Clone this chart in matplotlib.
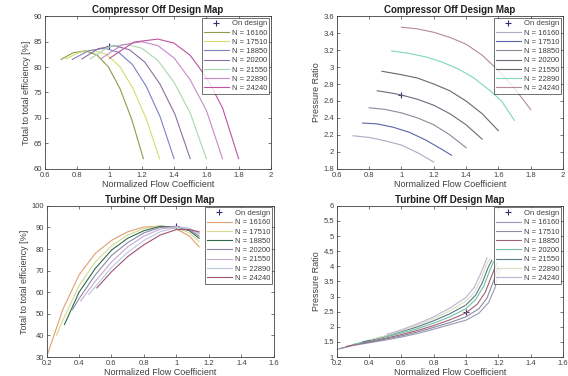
import matplotlib
matplotlib.use("Agg")
import matplotlib.pyplot as plt
from matplotlib.ticker import FuncFormatter, MultipleLocator

plt.rcParams['font.family'] = ['Liberation Sans', 'DejaVu Sans']

speeds = [16160, 17510, 18850, 20200, 21550, 22890, 24240]

# compressor efficiency
comp_eta_x = [
    [0.70, 0.775, 0.85, 0.922, 0.994, 1.066, 1.138, 1.21],
    [0.73, 0.815, 0.90, 0.982, 1.064, 1.146, 1.228, 1.31],
    [0.77, 0.87, 0.97, 1.056, 1.142, 1.228, 1.314, 1.40],
    [0.83, 0.93, 1.03, 1.124, 1.218, 1.312, 1.406, 1.50],
    [0.88, 0.99, 1.10, 1.20, 1.30, 1.40, 1.50, 1.60],
    [0.95, 1.075, 1.20, 1.30, 1.40, 1.50, 1.60, 1.70],
    [1.00, 1.15, 1.30, 1.40, 1.50, 1.60, 1.70, 1.80],
]
comp_eta_y = [
    [81.5, 82.8, 83.2, 82.4, 80.0, 75.7, 69.7, 62.0],
    [81.6, 82.9, 83.3, 82.5, 80.1, 75.8, 69.8, 62.0],
    [81.5, 83.2, 83.7, 82.9, 80.5, 76.2, 70.2, 62.0],
    [81.6, 83.6, 84.2, 83.4, 81.0, 76.7, 70.7, 62.0],
    [81.6, 83.9, 84.5, 83.7, 81.3, 77.0, 71.0, 62.0],
    [81.7, 84.3, 85.0, 84.2, 81.8, 77.5, 71.5, 62.0],
    [81.7, 84.9, 85.5, 84.7, 82.3, 78.0, 72.0, 62.0],
]
comp_eta_design = (1.0, 84.1)

# compressor pressure ratio
comp_pr_x = [
    [0.70, 0.80, 0.90, 1.00, 1.10, 1.20],
    [0.76, 0.85, 0.95, 1.05, 1.15, 1.25, 1.31],
    [0.80, 0.90, 1.00, 1.10, 1.20, 1.30, 1.40],
    [0.85, 0.95, 1.00, 1.10, 1.20, 1.30, 1.40, 1.50],
    [0.88, 1.00, 1.10, 1.20, 1.30, 1.40, 1.50, 1.60],
    [0.94, 1.05, 1.15, 1.25, 1.35, 1.45, 1.55, 1.62, 1.70],
    [1.00, 1.10, 1.20, 1.30, 1.40, 1.50, 1.60, 1.70, 1.80],
]
comp_pr_y = [
    [2.19, 2.17, 2.13, 2.08, 1.99, 1.88],
    [2.34, 2.33, 2.29, 2.23, 2.14, 2.03, 1.96],
    [2.52, 2.50, 2.46, 2.40, 2.32, 2.20, 2.05],
    [2.72, 2.69, 2.67, 2.62, 2.55, 2.45, 2.32, 2.15],
    [2.95, 2.91, 2.87, 2.80, 2.72, 2.60, 2.45, 2.25],
    [3.19, 3.16, 3.12, 3.06, 2.98, 2.87, 2.72, 2.60, 2.37],
    [3.47, 3.45, 3.41, 3.35, 3.27, 3.14, 2.96, 2.75, 2.50],
]
comp_pr_design = (1.0, 2.67)

# turbine efficiency
turb_eta_x = [
    [0.20, 0.30, 0.40, 0.50, 0.60, 0.70, 0.80, 0.90, 1.00, 1.08, 1.14],
    [0.26, 0.30, 0.40, 0.50, 0.60, 0.70, 0.80, 0.90, 1.00, 1.08, 1.14],
    [0.31, 0.40, 0.50, 0.60, 0.70, 0.80, 0.90, 1.00, 1.08, 1.14],
    [0.36, 0.40, 0.50, 0.60, 0.70, 0.80, 0.90, 1.00, 1.08, 1.14],
    [0.41, 0.50, 0.60, 0.70, 0.80, 0.90, 1.00, 1.08, 1.14],
    [0.46, 0.50, 0.60, 0.70, 0.80, 0.90, 1.00, 1.08, 1.14],
    [0.51, 0.60, 0.70, 0.80, 0.90, 1.00, 1.08, 1.14],
]
turb_eta_y = [
    [30, 52, 68, 78, 84, 88, 90.2, 90.6, 89.3, 86, 81],
    [40, 47, 63, 74, 81.5, 86.5, 89.5, 90.7, 90, 87.5, 83.5],
    [45, 60, 71, 79.5, 85, 88.5, 90.5, 90.3, 88.5, 85],
    [52, 57, 68, 77, 83, 87.5, 90, 90.5, 89, 86],
    [56, 65, 74, 81, 86, 89.2, 90.4, 89.5, 87],
    [59, 62.5, 71.5, 78.5, 84, 88, 90, 89.5, 87.5],
    [62, 69.5, 76.5, 82, 86.5, 89, 89, 88],
]
turb_eta_design = (1.0, 90.5)

# turbine pressure ratio
turb_pr_x = [
    [0.20, 0.30, 0.40, 0.50, 0.60, 0.70, 0.80, 0.90, 1.00, 1.08, 1.14, 1.18, 1.21],
    [0.22, 0.30, 0.40, 0.50, 0.60, 0.70, 0.80, 0.90, 1.00, 1.08, 1.13, 1.17, 1.20],
    [0.26, 0.30, 0.40, 0.50, 0.60, 0.70, 0.80, 0.90, 1.00, 1.07, 1.12, 1.16, 1.19],
    [0.31, 0.40, 0.50, 0.60, 0.70, 0.80, 0.90, 1.00, 1.06, 1.11, 1.15, 1.17],
    [0.36, 0.40, 0.50, 0.60, 0.70, 0.80, 0.90, 1.00, 1.06, 1.10, 1.14, 1.16],
    [0.41, 0.50, 0.60, 0.70, 0.80, 0.90, 1.00, 1.05, 1.09, 1.13, 1.15],
    [0.51, 0.60, 0.70, 0.80, 0.90, 1.00, 1.05, 1.09, 1.13],
]
turb_pr_y = [
    [1.25, 1.38, 1.47, 1.56, 1.66, 1.78, 1.92, 2.07, 2.22, 2.45, 2.8, 3.3, 3.9],
    [1.28, 1.39, 1.49, 1.59, 1.70, 1.83, 1.98, 2.14, 2.33, 2.6, 2.95, 3.5, 4.0],
    [1.35, 1.40, 1.51, 1.62, 1.74, 1.88, 2.04, 2.23, 2.46, 2.75, 3.15, 3.7, 4.1],
    [1.43, 1.54, 1.66, 1.79, 1.94, 2.12, 2.33, 2.6, 2.9, 3.35, 3.9, 4.15],
    [1.50, 1.55, 1.69, 1.84, 2.00, 2.2, 2.43, 2.72, 3.05, 3.45, 4.0, 4.2],
    [1.58, 1.70, 1.87, 2.05, 2.27, 2.53, 2.85, 3.12, 3.55, 4.1, 4.25],
    [1.75, 1.90, 2.10, 2.33, 2.62, 2.97, 3.3, 3.75, 4.28],
]
turb_pr_design = (1.0, 2.48)

colors_comp_eta = ['#8f9a48', '#d6dc6e', '#7c80c4', '#8c6fa0', '#a6d8b0', '#c889c8', '#c0529e']
colors_comp_pr = ['#b4a8c4', '#5a64a8', '#8a8a9c', '#6e6a78', '#6a6470', '#7fd6c0', '#b48a9a']
colors_turb_eta = ['#e0a070', '#d8d890', '#2c6a4a', '#8a8aa8', '#c8a8d0', '#b8c8e0', '#a05070']
colors_turb_pr = ['#9898b8', '#8a8aa0', '#a06078', '#70c0a0', '#5a7a8a', '#d8e0c0', '#c0b0d0']

fmt = FuncFormatter(lambda v, p: '%g' % round(v, 6))

fig = plt.figure(figsize=(5.68, 3.76), dpi=100)
fig.patch.set_facecolor('white')

panels = [
    ([0.079, 0.551, 0.398, 0.406], comp_eta_x, comp_eta_y, comp_eta_design, colors_comp_eta,
     'Compressor Off Design Map', 'Total to total efficiency [%]', (0.6, 2.0), 0.2, (60, 90), 5),
    ([0.593, 0.551, 0.398, 0.406], comp_pr_x, comp_pr_y, comp_pr_design, colors_comp_pr,
     'Compressor Off Design Map', 'Pressure Ratio', (0.6, 2.0), 0.2, (1.8, 3.6), 0.2),
    ([0.082, 0.0505, 0.400, 0.402], turb_eta_x, turb_eta_y, turb_eta_design, colors_turb_eta,
     'Turbine Off Design Map', 'Total to total efficiency [%]', (0.2, 1.6), 0.2, (30, 100), 10),
    ([0.593, 0.0505, 0.398, 0.402], turb_pr_x, turb_pr_y, turb_pr_design, colors_turb_pr,
     'Turbine Off Design Map', 'Pressure Ratio', (0.2, 1.6), 0.2, (1, 6), 0.5),
]

for rect, xs, ys, design, cols, title, ylabel, xlim, xstep, ylim, ystep in panels:
    ax = fig.add_axes(rect)
    ax.plot(design[0], design[1], '+', color='#303070', ms=4, mew=0.8, label='On design')
    for i, n in enumerate(speeds):
        ax.plot(xs[i], ys[i], color=cols[i], lw=0.8, label='N = %d' % n)
    ax.set_xlim(*xlim)
    ax.set_ylim(*ylim)
    ax.xaxis.set_major_locator(MultipleLocator(xstep))
    ax.yaxis.set_major_locator(MultipleLocator(ystep))
    ax.xaxis.set_major_formatter(fmt)
    ax.yaxis.set_major_formatter(fmt)
    ax.tick_params(direction='in', top=True, right=True, length=2.5, width=0.5,
                   labelsize=5.5, colors='#404040', pad=2)
    for s in ax.spines.values():
        s.set_linewidth(0.6)
        s.set_color('#404040')
    ax.set_title(title, fontsize=7, fontweight='bold', color='#202020', pad=2)
    ax.set_xlabel('Normalized Flow Coefficient', fontsize=6.5, color='#404040', labelpad=1)
    ax.set_ylabel(ylabel, fontsize=6.5, color='#404040', labelpad=2)
    leg = ax.legend(loc='upper right', fontsize=5.5, frameon=True, fancybox=False,
                    borderpad=0.3, labelspacing=0.25, handlelength=3.2, handletextpad=0.4,
                    borderaxespad=0.2, markerfirst=True)
    leg.get_frame().set_edgecolor('#303030')
    leg.get_frame().set_linewidth(0.6)
    for t in leg.get_texts():
        t.set_color('#404040')

plt.savefig('out.png', dpi=100, facecolor='white')
